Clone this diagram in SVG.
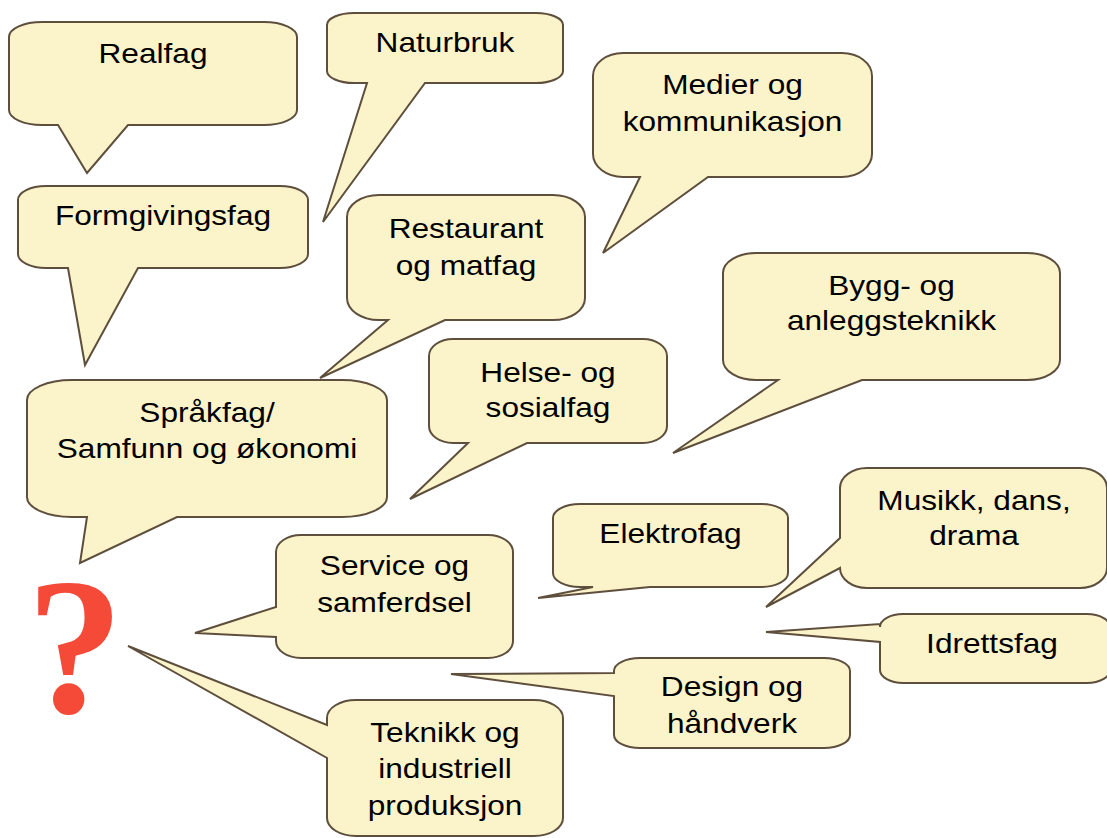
<svg xmlns="http://www.w3.org/2000/svg" width="1107" height="838" viewBox="0 0 1107 838">
<style>
.c{fill:#FBF3CA;stroke:#5E4F3D;stroke-width:2;stroke-linejoin:miter}
.t{font-family:"Liberation Sans",Arial,sans-serif;font-size:28px;fill:#000;text-anchor:middle}
.q{font-family:"Liberation Serif","Times New Roman",serif;font-weight:bold;font-size:194px;fill:#F44A37;text-anchor:middle}
</style>
<rect width="1107" height="838" fill="#fff"/>
<g id="connectors"></g>
<g id="realfag">
<path class="c" d="M42,22 H264 A33 15 0 0 1 297,37 V110 A33 15 0 0 1 264,125 H128 L87,173 L58,125 H42 A33 15 0 0 1 9,110 V37 A33 15 0 0 1 42,22 Z"/>
<text class="t" transform="translate(153,0) scale(1.13,1)" x="0" y="63">Realfag</text>
</g>
<g id="formgivingsfag">
<path class="c" d="M46,186 H280 A28 14 0 0 1 308,200 V254 A28 14 0 0 1 280,268 H138 L85,365 L68,268 H46 A28 14 0 0 1 18,254 V200 A28 14 0 0 1 46,186 Z"/>
<text class="t" transform="translate(163,0) scale(1.13,1)" x="0" y="225">Formgivingsfag</text>
</g>
<g id="naturbruk">
<path class="c" d="M354,13 H536 A27 12 0 0 1 563,25 V71 A27 12 0 0 1 536,83 H425 L323,222 L367,83 H354 A27 12 0 0 1 327,71 V25 A27 12 0 0 1 354,13 Z"/>
<text class="t" transform="translate(445,0) scale(1.13,1)" x="0" y="52">Naturbruk</text>
</g>
<g id="medier">
<path class="c" d="M623,53 H842 A30 23 0 0 1 872,76 V154 A30 23 0 0 1 842,177 H708 L603,253 L640,177 H623 A30 23 0 0 1 593,154 V76 A30 23 0 0 1 623,53 Z"/>
<text class="t" transform="translate(732.5,0) scale(1.13,1)" x="0" y="94">Medier og<tspan x="0" y="131">kommunikasjon</tspan></text>
</g>
<g id="restaurant">
<path class="c" d="M379,195 H553 A32 22 0 0 1 585,217 V298 A32 22 0 0 1 553,320 H445 L320,378 L388,320 H379 A32 22 0 0 1 347,298 V217 A32 22 0 0 1 379,195 Z"/>
<text class="t" transform="translate(466,0) scale(1.13,1)" x="0" y="238">Restaurant<tspan x="0" y="275">og matfag</tspan></text>
</g>
<g id="helse">
<path class="c" d="M453,339 H643 A24 17 0 0 1 667,356 V426 A24 17 0 0 1 643,443 H527 L410,499 L468,443 H453 A24 17 0 0 1 429,426 V356 A24 17 0 0 1 453,339 Z"/>
<text class="t" transform="translate(548,0) scale(1.13,1)" x="0" y="382">Helse- og<tspan x="0" y="417">sosialfag</tspan></text>
</g>
<g id="bygg">
<path class="c" d="M756,253 H1027 A33 20 0 0 1 1060,273 V360 A33 20 0 0 1 1027,380 H862 L673,453 L778,380 H756 A33 20 0 0 1 723,360 V273 A33 20 0 0 1 756,253 Z"/>
<text class="t" transform="translate(891.5,0) scale(1.13,1)" x="0" y="295">Bygg- og<tspan x="0" y="330">anleggsteknikk</tspan></text>
</g>
<g id="sprakfag">
<path class="c" d="M72,380 H342 A45 20 0 0 1 387,400 V497 A45 20 0 0 1 342,517 H177 L80,563 L87,517 H72 A45 20 0 0 1 27,497 V400 A45 20 0 0 1 72,380 Z"/>
<text class="t" transform="translate(207,0) scale(1.13,1)" x="0" y="421.7">Språkfag/<tspan x="0" y="458.3">Samfunn og økonomi</tspan></text>
</g>
<g id="service">
<path class="c" d="M301,535 H488 A25 17 0 0 1 513,552 V641 A25 17 0 0 1 488,658 H301 A25 17 0 0 1 276,641 V637 L195,633 L276,607 V552 A25 17 0 0 1 301,535 Z"/>
<text class="t" transform="translate(394.5,0) scale(1.13,1)" x="0" y="575">Service og<tspan x="0" y="612">samferdsel</tspan></text>
</g>
<g id="elektrofag">
<path class="c" d="M580,504 H761 A27 14 0 0 1 788,518 V573 A27 14 0 0 1 761,587 H650 L538,598 L593,587 H580 A27 14 0 0 1 553,573 V518 A27 14 0 0 1 580,504 Z"/>
<text class="t" transform="translate(670.5,0) scale(1.13,1)" x="0" y="543">Elektrofag</text>
</g>
<g id="musikk">
<path class="c" d="M867,468 H1080 A27 20 0 0 1 1107,488 V568 A27 20 0 0 1 1080,588 H867 A27 20 0 0 1 840,568 L766,607 L840,538 V488 A27 20 0 0 1 867,468 Z"/>
<text class="t" transform="translate(974,0) scale(1.13,1)" x="0" y="510">Musikk, dans,<tspan x="0" y="545">drama</tspan></text>
</g>
<g id="idrettsfag">
<path class="c" d="M903,614 H1087 A23 13 0 0 1 1110,627 V670 A23 13 0 0 1 1087,683 H903 A23 13 0 0 1 880,670 V642 L766,632 L880,624 V627 A23 13 0 0 1 903,614 Z"/>
<text class="t" transform="translate(992,0) scale(1.13,1)" x="0" y="653">Idrettsfag</text>
</g>
<g id="design">
<path class="c" d="M640,658 H824 A26 13 0 0 1 850,671 V735 A26 13 0 0 1 824,748 H640 A26 13 0 0 1 614,735 V696 L451,674 L614,673 V671 A26 13 0 0 1 640,658 Z"/>
<text class="t" transform="translate(732,0) scale(1.13,1)" x="0" y="696">Design og<tspan x="0" y="733">håndverk</tspan></text>
</g>
<g id="teknikk">
<path class="c" d="M356,700 H534 A29 18 0 0 1 563,718 V818 A29 18 0 0 1 534,836 H356 A29 18 0 0 1 327,818 V758 L128,646 L327,725 V718 A29 18 0 0 1 356,700 Z"/>
<text class="t" transform="translate(445,0) scale(1.13,1)" x="0" y="741.7">Teknikk og<tspan x="0" y="778.3">industriell</tspan><tspan x="0" y="815">produksjon</tspan></text>
</g>
<g id="question">
<text class="q" x="75" y="712">?</text>
</g>
</svg>
